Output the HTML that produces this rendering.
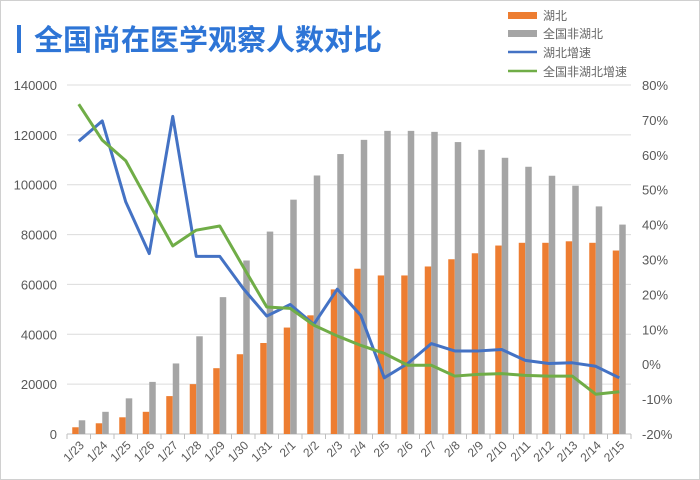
<!DOCTYPE html>
<html><head><meta charset="utf-8"><style>
body{margin:0;background:#fff;}
svg{display:block;font-family:"Liberation Sans","Noto Sans CJK SC",sans-serif;}
</style></head><body>
<svg id="c" width="700" height="480">
<rect x="0.5" y="0.5" width="699" height="479" fill="#fff" stroke="#d0d0d0"/>
<rect x="17" y="25" width="4" height="28" fill="#2e75d6"/>
<text x="34" y="50" font-size="29" font-weight="bold" fill="#2e75d6">全国尚在医学观察人数对比</text>
<g id="grid"></g><g id="bars"></g><g id="lines"></g><g id="axes"></g>
<g font-size="12" fill="#666">
<rect x="508" y="12" width="29" height="7" fill="#ed7d31"/>
<text x="543" y="20">湖北</text>
<rect x="508" y="30" width="29" height="7" fill="#a5a5a5"/>
<text x="543" y="38">全国非湖北</text>
<line x1="508" y1="52" x2="537" y2="52" stroke="#4472c4" stroke-width="2.5"/>
<text x="543" y="57">湖北增速</text>
<line x1="508" y1="71" x2="537" y2="71" stroke="#70ad47" stroke-width="2.5"/>
<text x="543" y="76">全国非湖北增速</text>
</g>
</svg>
<script>
const categories=["1/23","1/24","1/25","1/26","1/27","1/28","1/29","1/30","1/31","2/1","2/2","2/3","2/4","2/5","2/6","2/7","2/8","2/9","2/10","2/11","2/12","2/13","2/14","2/15"];
const hubei=[2700,4300,6700,8900,15200,20000,26400,32000,36500,42700,47600,58000,66300,63600,63600,67200,70100,72500,75600,76700,76700,77300,76700,73600];
const nonHubei=[5500,8900,14300,20900,28300,39200,54900,69600,81200,94000,103700,112300,118000,121600,121600,121200,117100,114000,110800,107200,103600,99600,91300,84000];
const hubeiGrowth=[63.9,69.7,46.5,31.7,71,30.9,30.9,21.7,13.8,17.1,11.4,21.5,14,-3.9,0.2,5.9,3.8,3.8,4.2,1.1,0.2,0.4,-0.6,-3.9];
const nonHubeiGrowth=[74.5,64.2,58.3,46,33.9,38.4,39.6,27.9,16.4,16,11.2,8.1,5.4,3.1,-0.3,-0.3,-3.4,-2.9,-2.7,-3.2,-3.4,-3.4,-8.6,-7.9];
const leftTicks=[0,20000,40000,60000,80000,100000,120000,140000];
const rightTicks=[-20,-10,0,10,20,30,40,50,60,70,80];
const NS="http://www.w3.org/2000/svg";
const X0=67,X1=631,Y0=434,Y1=85;
const step=(X1-X0)/categories.length;
const xc=i=>X0+step*(i+0.5);
const yL=v=>Y0-(v/140000)*(Y0-Y1);
const yR=v=>Y0-((v+20)/100)*(Y0-Y1);
function mk(tag,attrs,parent){const e=document.createElementNS(NS,tag);for(const k in attrs)e.setAttribute(k,attrs[k]);parent.appendChild(e);return e;}
const grid=document.getElementById('grid'),bars=document.getElementById('bars'),lines=document.getElementById('lines'),axes=document.getElementById('axes');
leftTicks.forEach(v=>{
 const l=mk('line',{x1:X0,x2:X1,y1:yL(v),y2:yL(v),stroke:v===0?'#bfbfbf':'#dcdcdc','stroke-width':1},grid);
 
 
 const t=mk('text',{x:57,y:yL(v)+5,'text-anchor':'end','font-size':13,fill:'#595959'},axes);
 t.textContent=v;
 
 
});
rightTicks.forEach(v=>{
 const t=mk('text',{x:642,y:yR(v)+5,'font-size':13,fill:'#595959'},axes);
 t.textContent=v+'%';
 
 
});
for(let i=0;i<=categories.length;i++){
 const x=X0+step*i;
 const tk=mk('line',{x1:x,x2:x,y1:Y0,y2:Y0+5,stroke:'#bfbfbf'},axes);
 
 
}
categories.forEach((c,i)=>{
 const x=xc(i);
 const b1=mk('rect',{x:x-6.5,y:yL(hubei[i]),width:6.5,height:Y0-yL(hubei[i]),fill:'#ed7d31'},bars);
 
 
 const b2=mk('rect',{x:x,y:yL(nonHubei[i]),width:6.5,height:Y0-yL(nonHubei[i]),fill:'#a5a5a5'},bars);
 
 
 const t=mk('text',{x:x+6,y:Y0+12,'text-anchor':'end','font-size':12,fill:'#595959',transform:`rotate(-45 ${x+6} ${Y0+12})`},axes);
 t.textContent=c;
 
 
});
const p1=mk('polyline',{points:hubeiGrowth.map((v,i)=>xc(i)+','+yR(v)).join(' '),fill:'none',stroke:'#4472c4','stroke-width':3,'stroke-linejoin':'round'},lines);


const p2=mk('polyline',{points:nonHubeiGrowth.map((v,i)=>xc(i)+','+yR(v)).join(' '),fill:'none',stroke:'#70ad47','stroke-width':3,'stroke-linejoin':'round'},lines);


</script>
</body></html>
